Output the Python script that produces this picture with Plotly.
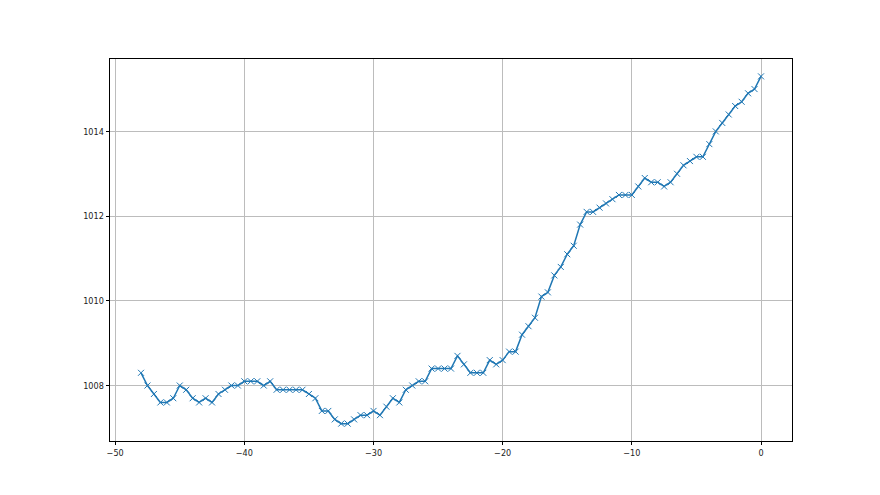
import plotly.graph_objects as go

hours = [i / 2 for i in range(-96, 1)]
pressure = [
    1008.3, 1008.0, 1007.8, 1007.6, 1007.6, 1007.7, 1008.0, 1007.9, 1007.7, 1007.6,
    1007.7, 1007.6, 1007.8, 1007.9, 1008.0, 1008.0, 1008.1, 1008.1, 1008.1, 1008.0,
    1008.1, 1007.9, 1007.9, 1007.9, 1007.9, 1007.9, 1007.8, 1007.7, 1007.4, 1007.4,
    1007.2, 1007.1, 1007.1, 1007.2, 1007.3, 1007.3, 1007.4, 1007.3, 1007.5, 1007.7,
    1007.6, 1007.9, 1008.0, 1008.1, 1008.1, 1008.4, 1008.4, 1008.4, 1008.4, 1008.7,
    1008.5, 1008.3, 1008.3, 1008.3, 1008.6, 1008.5, 1008.6, 1008.8, 1008.8, 1009.2,
    1009.4, 1009.6, 1010.1, 1010.2, 1010.6, 1010.8, 1011.1, 1011.3, 1011.8, 1012.1,
    1012.1, 1012.2, 1012.3, 1012.4, 1012.5, 1012.5, 1012.5, 1012.7, 1012.9, 1012.8,
    1012.8, 1012.7, 1012.8, 1013.0, 1013.2, 1013.3, 1013.4, 1013.4, 1013.7, 1014.0,
    1014.2, 1014.4, 1014.6, 1014.7, 1014.9, 1015.0, 1015.3,
]
x_ticks = [-50, -40, -30, -20, -10, 0]
y_ticks = [1008, 1010, 1012, 1014]

color = "#1f77b4"
fig = go.Figure(
    go.Scatter(
        x=hours, y=pressure, mode="lines+markers",
        line=dict(color=color, width=1.5),
        marker=dict(symbol="x-thin", size=6, line=dict(color=color, width=1)),
        showlegend=False,
    )
)

tick_font = dict(family="DejaVu Sans Condensed, Liberation Sans Narrow, DejaVu Sans",
                 size=9, color="#222222")
axis_common = dict(
    showline=True, mirror=True, linecolor="black", linewidth=0.8,
    ticks="outside", ticklen=3.5, tickwidth=0.8, tickcolor="black",
    showgrid=True, gridcolor="#bcbcbc", gridwidth=0.8, zeroline=False,
    tickfont=tick_font,
)
fig.update_xaxes(range=[-50.4, 2.4], tickvals=x_ticks, **axis_common)
fig.update_yaxes(range=[1006.69, 1015.71], tickvals=y_ticks, **axis_common)

fig.update_layout(
    width=880, height=495,
    margin=dict(l=102, r=96, t=51, b=62),
    paper_bgcolor="white", plot_bgcolor="white",
    font=tick_font,
)
fig.write_html("out.html")
